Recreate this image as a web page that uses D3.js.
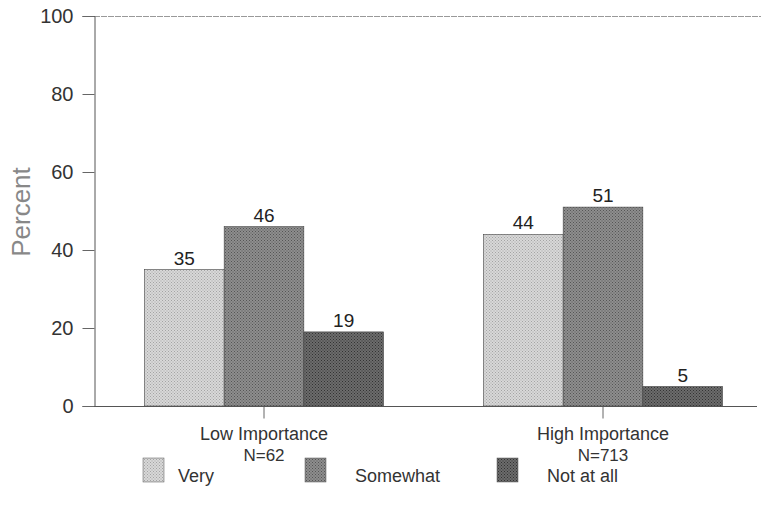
<!DOCTYPE html>
<html><head><meta charset="utf-8">
<script src="https://cdn.jsdelivr.net/npm/d3@7"></script>
<style>body{margin:0;background:#fff}text{font-family:"Liberation Sans",Arial,Helvetica,sans-serif}</style>
</head><body><svg id="c" width="761" height="510"></svg>
<script>
const groups = ["Low Importance", "High Importance"];
const groupN = ["N=62", "N=713"];
const series = ["Very", "Somewhat", "Not at all"];
const very = [35, 44];
const somewhat = [46, 51];
const notAtAll = [19, 5];
const yTicks = [0, 20, 40, 60, 80, 100];

const values = [very, somewhat, notAtAll];
const svg = d3.select("#c");
const defs = svg.append("defs");
const pats = [
  {id:"p0", bg:"#d8d8d8", dot:"#a4a4a4"},
  {id:"p1", bg:"#8e8e8e", dot:"#555555"},
  {id:"p2", bg:"#6c6c6c", dot:"#333333"}
];
pats.forEach(p=>{
  const pt = defs.append("pattern").attr("id",p.id).attr("patternUnits","userSpaceOnUse").attr("width",3).attr("height",3);
  pt.append("rect").attr("width",3).attr("height",3).attr("fill",p.bg);
  pt.append("rect").attr("x",0).attr("y",0).attr("width",1).attr("height",1).attr("fill",p.dot);
  pt.append("rect").attr("x",1.5).attr("y",1.5).attr("width",1).attr("height",1).attr("fill",p.dot);
});

const x0 = d3.scaleBand().domain(groups).range([94.5, 772.5]);
const x1 = d3.scaleBand().domain(series).range([0, 239]);
const y = d3.scaleLinear().domain([0,100]).range([406,16]);

// top line
svg.append("line").attr("x1",94).attr("x2",761).attr("y1",16.5).attr("y2",16.5)
  .attr("stroke","#999").attr("stroke-width",1).attr("stroke-dasharray","6,1");

// y axis
const yAxis = d3.axisLeft(y).tickValues(yTicks).tickSize(12).tickPadding(9);
const gy = svg.append("g").attr("transform","translate(94.5,0)").call(yAxis);
gy.select(".domain").attr("stroke","#555");
gy.selectAll(".tick line").attr("stroke","#666");
gy.selectAll("text").attr("font-size",20).attr("fill","#333").style("font-family","'Liberation Sans',Arial,sans-serif");

svg.append("text").attr("transform","translate(30,212) rotate(-90)").attr("text-anchor","middle")
  .attr("font-size",26).attr("fill","#888").text("Percent");

// bars
groups.forEach((g,gi)=>{
  const gx = x0(g) + x0.bandwidth()/2 - 119.5;
  series.forEach((s,si)=>{
    const v = values[si][gi];
    svg.append("rect").attr("x",gx + x1(s)).attr("y",y(v)).attr("width",x1.bandwidth()).attr("height",y(0)-y(v))
      .attr("fill","url(#"+pats[si].id+")").attr("stroke","#444").attr("stroke-width",0.6);
    svg.append("text").attr("x",gx + x1(s) + x1.bandwidth()/2).attr("y",y(v)-5).attr("text-anchor","middle")
      .attr("font-size",19).attr("fill","#222").text(v);
  });
});

// x axis
const xAxis = d3.axisBottom(x0).tickSize(12).tickFormat(()=>"");
const gx = svg.append("g").attr("transform","translate(0,406.5)").call(xAxis);
gx.select(".domain").remove();
gx.selectAll(".tick line").attr("stroke","#666");
svg.append("line").attr("x1",94).attr("x2",757).attr("y1",406.5).attr("y2",406.5).attr("stroke","#555");

groups.forEach((g,gi)=>{
  const cx = x0(g) + x0.bandwidth()/2;
  svg.append("text").attr("x",cx).attr("y",440).attr("text-anchor","middle").attr("font-size",18).attr("fill","#333").text(g);
  svg.append("text").attr("x",cx).attr("y",461).attr("text-anchor","middle").attr("font-size",17).attr("fill","#333").text(groupN[gi]);
});

// legend
const legX = [143, 305, 497];
const legTextX = [178, 355, 547];
series.forEach((s,si)=>{
  svg.append("rect").attr("x",legX[si]).attr("y",458).attr("width",21).attr("height",24)
    .attr("fill","url(#"+pats[si].id+")").attr("stroke","#555").attr("stroke-width",0.5);
  svg.append("text").attr("x",legTextX[si]).attr("y",482).attr("font-size",18).attr("fill","#333").text(s);
});
</script></body></html>
